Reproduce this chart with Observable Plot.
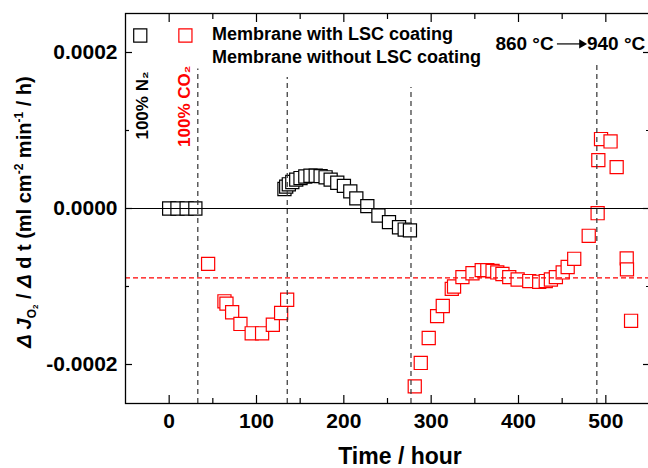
<!DOCTYPE html>
<html>
<head>
<meta charset="utf-8">
<script src="https://cdn.jsdelivr.net/npm/d3@7"></script>
<script src="https://cdn.jsdelivr.net/npm/@observablehq/plot@0.6"></script>
<style>
  html, body { margin: 0; padding: 0; background: #fff; }
  svg { display: block; }
</style>
</head>
<body>
<div id="chart"></div>
<script>
// ---- data (time in hours, rate in ml cm^-2 min^-1 / h) ----
const blackTime = [0, 9.5, 20, 30, 132, 134, 137, 141, 145.5, 150.4, 155.9, 161.8, 167.8, 173.4, 179.1, 184.9, 192.5, 200.1, 207.4, 214.3, 226.9, 239.6, 251.7, 263.2, 269.7, 275.7];
const blackRate = [0, 0, 0, 0, 0.000025, 0.000028, 0.000031, 0.000034, 0.000037, 0.000039, 0.000041, 0.000042, 0.000042, 0.0000415, 0.000040, 0.000037, 0.000033, 0.000029, 0.000022, 0.000013, 0.000003, -0.000009, -0.0000175, -0.000024, -0.000027, -0.000028];

const redTime = [44.6, 63.3, 65.6, 72.1, 81.6, 94.5, 106.4, 118.7, 128.2, 135.1,
  281.2, 288.1, 297.2, 306.8, 313.3, 323.6, 326.2, 335.8, 347.3, 357.9, 364.3, 370.3, 375.7, 381.6, 389.4, 399, 412.3, 423.7, 431.2, 437.1, 442.8, 450.6, 456.3, 463.8, 480.4, 490.6, 491.4, 494.5, 505.4, 512.4, 523.9, 524.2, 528.9];
const redRate = [-0.000071, -0.000119, -0.000122, -0.000133, -0.000148, -0.000160, -0.000160, -0.000149, -0.000134, -0.000117,
  -0.000228, -0.000198, -0.000166, -0.000138, -0.000125, -0.000103, -0.000100, -0.000088, -0.000083, -0.000079, -0.000079, -0.000080, -0.000082, -0.000084, -0.000088, -0.000091, -0.000093, -0.000094, -0.000093, -0.000091, -0.000088, -0.000082, -0.000075, -0.0000645, -0.000035, -0.000006, 0.000062, 0.000089, 0.000086, 0.000053, -0.000064, -0.000078, -0.000144];

const xMajorTicks = [0, 100, 200, 300, 400, 500];
const xMinorTicks = [50, 150, 250, 350, 450];
const yMajorTicks = [-0.0002, 0, 0.0002];
const yMinorTicks = [-0.0001, 0.0001];

const eventTimes = [32.8, 135.2, 276.9, 489.7];
const eventTops = [0.000179, 0.000168, 0.000155, 0.000188];
const co2Level = -0.000089;

const seriesNames = ["Membrane with LSC coating", "Membrane without LSC coating"];
const seriesColors = ["#000000", "#ff0000"];
const legendSymbolX = [-33.1, 18.6];
const legendSymbolY = 0.0002218;
const legendTextX = 49.1;
const legendTextY = [0.0002235, 0.0001933];

const gasLabels = ["100% N\u2082", "100% CO\u2082"];
const gasLabelX = [-30.7, 17.4];
const gasLabelY = [0.000132, 0.000131];
const gasLabelColors = ["#000000", "#ff0000"];

const tempLabels = ["860 \u00B0C", "940 \u00B0C"];
const tempLabelX = [440.3, 478.4];
const tempLabelY = 0.000211;
const tempArrowX = [444, 472.5];

// ---- build tables ----
const black = blackTime.map((t, i) => ({t, v: blackRate[i]}));
const red = redTime.map((t, i) => ({t, v: redRate[i]}));
const events = eventTimes.map((t, i) => ({t, top: eventTops[i]}));
const legendSyms = legendSymbolX.map((x, i) => ({x, y: legendSymbolY, c: seriesColors[i]}));
const legendTexts = seriesNames.map((s, i) => ({x: legendTextX, y: legendTextY[i], s}));
const gas = gasLabels.map((s, i) => ({x: gasLabelX[i], y: gasLabelY[i], s, c: gasLabelColors[i]}));

const FONT = "'Liberation Sans', Arial, Helvetica, sans-serif";
const blank = () => "";
const tk = {stroke: "#000", strokeWidth: 1.2, tickFormat: blank, label: null};

const plot = Plot.plot({
  width: 648,
  height: 468,
  marginLeft: 125,
  marginRight: -1,
  marginTop: 13,
  marginBottom: 65,
  style: {fontFamily: FONT, background: "#fff"},
  x: {domain: [-50, 550]},
  y: {domain: [-0.00025, 0.00025]},
  marks: [
    Plot.dot(black, {x: "t", y: "v", symbol: "square", r: 7.4, stroke: seriesColors[0], fill: "#fff", strokeWidth: 1.2}),
    Plot.dot(red, {x: "t", y: "v", symbol: "square", r: 7.4, stroke: seriesColors[1], fill: "#fff", strokeWidth: 1.2}),
    Plot.ruleY([0], {stroke: "#000", strokeWidth: 1.2}),
    Plot.ruleY([co2Level], {stroke: "#ff0000", strokeWidth: 1.2, strokeDasharray: "5,3"}),
    Plot.ruleX(events, {x: "t", y1: -0.00025, y2: "top", stroke: "#333", strokeWidth: 1.2, strokeDasharray: "5,4"}),
    Plot.frame({stroke: "#000", strokeWidth: 1.3}),
    // tick labels
    Plot.axisY(yMajorTicks, {anchor: "left", tickSize: 0, tickPadding: 8, tickFormat: d => d.toFixed(4), fontSize: 21, fontWeight: "bold", fill: "#000", label: null}),
    Plot.axisX(xMajorTicks, {anchor: "bottom", tickSize: 0, tickPadding: 10, tickFormat: d => String(d), fontSize: 21, fontWeight: "bold", fill: "#000", label: null}),
    // inward ticks on all four sides
    Plot.axisY(yMajorTicks, {...tk, anchor: "left", tickSize: 7, dx: 7}),
    Plot.axisY(yMinorTicks, {...tk, anchor: "left", tickSize: 4, dx: 4}),
    Plot.axisY(yMajorTicks, {...tk, anchor: "right", tickSize: 7, dx: -7}),
    Plot.axisY(yMinorTicks, {...tk, anchor: "right", tickSize: 4, dx: -4}),
    Plot.axisX(xMajorTicks, {...tk, anchor: "bottom", tickSize: 8, dy: -8}),
    Plot.axisX(xMinorTicks, {...tk, anchor: "bottom", tickSize: 5, dy: -5}),
    Plot.axisX(xMajorTicks, {...tk, anchor: "top", tickSize: 8, dy: 8}),
    Plot.axisX(xMinorTicks, {...tk, anchor: "top", tickSize: 5, dy: 5}),
    // legend
    Plot.dot(legendSyms, {x: "x", y: "y", symbol: "square", r: 7.4, stroke: "c", fill: "#fff", strokeWidth: 1.2}),
    Plot.text(legendTexts, {x: "x", y: "y", text: "s", textAnchor: "start", fontSize: 18, fontWeight: "bold", fill: "#000"}),
    // gas annotations
    Plot.text(gas, {x: "x", y: "y", text: "s", rotate: -90, fontSize: 17, fontWeight: "bold", fill: "c"}),
    // temperature annotation
    Plot.text([tempLabels[0]], {x: tempLabelX[0], y: tempLabelY, text: d => d, textAnchor: "end", fontSize: 19, fontWeight: "bold", fill: "#000"}),
    Plot.text([tempLabels[1]], {x: tempLabelX[1], y: tempLabelY, text: d => d, textAnchor: "start", fontSize: 19, fontWeight: "bold", fill: "#000"}),
    Plot.link([0], {x1: tempArrowX[0], x2: tempArrowX[1], y1: tempLabelY, y2: tempLabelY, stroke: "#000", strokeWidth: 1.2}),
    Plot.dot([0], {x: tempArrowX[1], y: tempLabelY, symbol: "triangle", r: 3.4, rotate: 90, fill: "#000", stroke: "none"})
  ]
});

document.getElementById("chart").appendChild(plot);

// ---- axis titles (with sub/superscripts) ----
const svg = d3.select(plot);
svg.append("text")
  .attr("x", 400).attr("y", 464)
  .attr("text-anchor", "middle")
  .style("font-family", FONT).style("font-size", "23px").style("font-weight", "bold").attr("fill", "#000")
  .text("Time / hour");

const yt = svg.append("text")
  .attr("transform", "translate(31,212) rotate(-90)")
  .attr("text-anchor", "middle")
  .style("font-family", FONT).style("font-size", "20px").style("font-weight", "bold").attr("fill", "#000");
yt.append("tspan").style("font-style", "italic").text("\u0394 J");
yt.append("tspan").attr("dy", 5).style("font-size", "12px").text("O");
yt.append("tspan").attr("dy", 2).style("font-size", "8px").text("2");
yt.append("tspan").attr("dy", -7).text(" / ");
yt.append("tspan").style("font-style", "italic").text("\u0394");
yt.append("tspan").text(" d t (ml cm");
yt.append("tspan").attr("dy", -8).style("font-size", "12px").text("-2");
yt.append("tspan").attr("dy", 8).text(" min");
yt.append("tspan").attr("dy", -8).style("font-size", "12px").text("-1");
yt.append("tspan").attr("dy", 8).text(" / h)");
</script>
</body>
</html>
